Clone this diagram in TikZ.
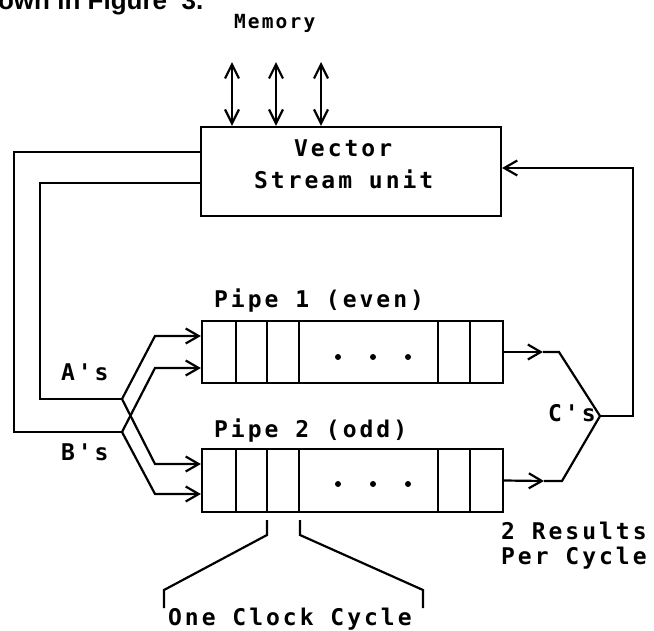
\documentclass[tikz,border=0pt]{standalone}
\usepackage{fontspec}
\usetikzlibrary{arrows.meta}
\newfontfamily\plotfont[LetterSpace=13,UprightFont=* Bold]{DejaVu Sans Mono}
\newfontfamily\memfont[LetterSpace=11,UprightFont=* Bold]{DejaVu Sans Mono}
\newfontfamily\pagefont{Liberation Sans}
\begin{document}
\begin{tikzpicture}[x=1pt,y=-1pt,line width=2.2pt,line join=miter,
  lbl/.style={inner sep=0pt,anchor=base west,font=\plotfont\fontsize{23}{26}\selectfont},
  arr/.style={-{Straight Barb[length=13pt,width=15pt]}},
  dbl/.style={{Straight Barb[length=14pt,width=14pt]}-{Straight Barb[length=14pt,width=14pt]}},
  boxstyle/.style={draw,inner sep=0pt,minimum width=300pt,minimum height=89pt},
  pipestyle/.style={draw,inner sep=0pt,minimum width=301pt,minimum height=62pt},
  dot/.style={fill,circle,inner sep=0pt,minimum size=6pt}]
\useasboundingbox (0,0) rectangle (654,630);
% page fragment
\node[anchor=base west,inner sep=0pt,font=\pagefont\bfseries\fontsize{26}{30}\selectfont] (frag) at (-3,9) {own in Figure\ \ 3.};
% memory
\node[inner sep=0pt,anchor=base west,font=\memfont\fontsize{19.5}{22}\selectfont] (mem) at (233,28) {Memory};
% vector stream unit
\node[boxstyle] (vsu) at (351,171.5) {};
\node[lbl] (vtxt) at (293,156) {Vector};
\node[lbl] (stxt) at (253,188) {Stream unit};
\coordinate (m1) at (232,62);
\coordinate (m2) at (276,62);
\coordinate (m3) at (321,62);
\draw[dbl] (m1) -- (m1 |- vsu.north);
\draw[dbl] (m2) -- (m2 |- vsu.north);
\draw[dbl] (m3) -- (m3 |- vsu.north);
% pipes
\node[pipestyle] (pipe1) at (352.5,352) {};
\node[pipestyle,minimum height=63pt] (pipe2) at (352.5,480.5) {};
\foreach \x in {236,267,299,438,470} {
  \draw (\x,321) -- (\x,383);
  \draw (\x,449) -- (\x,512);
}
\foreach \x in {338,373,408} {
  \node[dot] at (\x,357) {};
  \node[dot] at (\x,484) {};
}
\node[lbl] (p1lbl) at (213,307) {Pipe 1 (even)};
\node[lbl] (p2lbl) at (213,437) {Pipe 2 (odd)};
% feeds from the unit
\coordinate (yo) at (0,152);
\coordinate (yi) at (0,183);
\coordinate (aj) at (122,399);
\coordinate (bj) at (122,432);
\draw (vsu.west |- yo) -- (14,152) -- (14,432) -- (bj);
\draw (vsu.west |- yi) -- (40,183) -- (40,399) -- (aj);
\coordinate (i1) at (0,336);
\coordinate (i2) at (0,368);
\coordinate (i3) at (0,464);
\coordinate (i4) at (0,494);
\draw[arr] (aj) -- (155,336) -- (pipe1.west |- i1);
\draw[arr] (bj) -- (155,368) -- (pipe1.west |- i2);
\draw[arr] (aj) -- (155,464) -- (pipe2.west |- i3);
\draw[arr] (bj) -- (155,494) -- (pipe2.west |- i4);
\node[lbl] (albl) at (60,380) {A's};
\node[lbl] (blbl) at (60,460) {B's};
% outputs
\coordinate (cj) at (600,416);
\coordinate (ret) at (633,168);
\draw[arr] (pipe1.east) -- (543,352);
\draw[arr] (pipe2.east) -- (544,481);
\draw (543,352) -- (559,352) -- (cj) -- (562,481) -- (544,481);
\draw[arr] (cj) -- (633,416) -- (ret) -- (vsu.east |- ret);
\node[lbl] (clbl) at (547,421) {C's};
\node[lbl] (r1) at (500,539) {2 Results};
\node[lbl] (r2) at (500,564) {Per Cycle};
% clock cycle bracket
\coordinate (k1) at (267,520);
\coordinate (k2) at (300,520);
\draw (k1) -- (267,535) -- (164,590) -- (164,608);
\draw (k2) -- (300,535) -- (423,590) -- (423,608);
\node[lbl] (clk) at (167,625) {One Clock Cycle};
\end{tikzpicture}
\end{document}
